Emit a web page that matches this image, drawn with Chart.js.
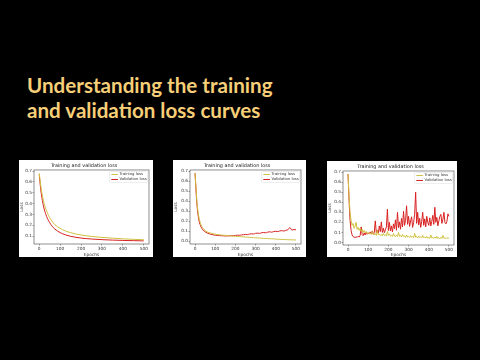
<!DOCTYPE html>
<html>
<head>
<meta charset="utf-8">
<script src="https://cdn.jsdelivr.net/npm/chart.js@4.4.1/dist/chart.umd.min.js"></script>
<style>
  html, body { margin: 0; padding: 0; background: #000; }
  body { width: 480px; height: 360px; position: relative; overflow: hidden; }
  .headline {
    position: absolute; left: 27px; color: #f6cf78;
    font-family: Lato, "Open Sans", sans-serif; font-weight: bold;
    font-size: 20.6px; line-height: 1; white-space: nowrap;
  }
  .panel { position: absolute; background: #fff; }
</style>
</head>
<body>
<div class="headline" style="top:75px">Understanding the training</div>
<div class="headline" style="top:100px">and validation loss curves</div>
<div class="panel" style="left:19px;top:160px;width:134px;height:97px"><canvas id="c1"></canvas></div>
<div class="panel" style="left:173px;top:160px;width:133px;height:97px"><canvas id="c2"></canvas></div>
<div class="panel" style="left:327px;top:161px;width:130px;height:96px"><canvas id="c3"></canvas></div>
<script>
// --- data -------------------------------------------------------------
const xTicks = [0, 100, 200, 300, 400, 500];
const yTicksGood = [0.1, 0.2, 0.3, 0.4, 0.5, 0.6, 0.7];
const yTicks = [0.0, 0.1, 0.2, 0.3, 0.4, 0.5, 0.6, 0.7];

// chart 1: good fit
const epochs1 = [0, 5, 10, 20, 30, 40, 50, 60, 75, 100, 125, 150, 200, 250, 300, 350, 400, 450, 500];
const train1 = [0.68, 0.6, 0.53, 0.43, 0.36, 0.31, 0.27, 0.24, 0.205, 0.172, 0.148, 0.132, 0.11, 0.097, 0.088, 0.081, 0.075, 0.07, 0.066];
const val1 = [0.67, 0.57, 0.49, 0.38, 0.31, 0.26, 0.225, 0.195, 0.165, 0.132, 0.112, 0.098, 0.082, 0.073, 0.067, 0.063, 0.06, 0.058, 0.056];

// chart 2: overfitting
const epochs2 = [0, 5, 10, 15, 20, 30, 40, 50, 60, 70, 80, 90, 100,
  110, 120, 130, 140, 150, 160, 170, 180, 190, 200,
  210, 220, 230, 240, 250, 260, 270, 280, 290, 300,
  310, 320, 330, 340, 350, 360, 370, 380, 390, 400,
  410, 420, 430, 440, 450, 460, 470, 480, 490, 500];
const train2 = [0.68, 0.52, 0.38, 0.29, 0.23, 0.16, 0.125, 0.105, 0.092, 0.084, 0.078, 0.073, 0.069,
  0.065, 0.062, 0.06, 0.058, 0.056, 0.054, 0.052, 0.05, 0.049, 0.047,
  0.046, 0.044, 0.043, 0.041, 0.04, 0.038, 0.037, 0.035, 0.034, 0.032,
  0.031, 0.029, 0.028, 0.027, 0.025, 0.024, 0.023, 0.022, 0.021, 0.019,
  0.018, 0.017, 0.016, 0.015, 0.014, 0.013, 0.012, 0.011, 0.011, 0.01];
const val2 = [0.68, 0.5, 0.35, 0.26, 0.2, 0.14, 0.11, 0.092, 0.08, 0.072, 0.066, 0.062, 0.058,
  0.056, 0.054, 0.053, 0.052, 0.051, 0.051, 0.052, 0.053, 0.054, 0.056,
  0.058, 0.057, 0.061, 0.063, 0.066, 0.064, 0.07, 0.072, 0.07, 0.077,
  0.079, 0.076, 0.083, 0.085, 0.082, 0.089, 0.092, 0.088, 0.095, 0.097,
  0.094, 0.101, 0.104, 0.099, 0.108, 0.112, 0.135, 0.109, 0.115, 0.112];

// chart 3: noisy / unstable
const epochs3 = [0, 5, 10, 15, 20, 25, 30, 35, 40, 45, 50, 55, 60, 65, 70, 75, 80, 85, 90, 95,
  100, 105, 110, 115, 120, 125, 130, 135, 140, 145, 150, 155, 160, 165, 170, 175, 180, 185, 190, 195,
  200, 205, 210, 215, 220, 225, 230, 235, 240, 245, 250, 255, 260, 265, 270, 275, 280, 285, 290, 295,
  300, 305, 310, 315, 320, 325, 330, 335, 340, 345, 350, 355, 360, 365, 370, 375, 380, 385, 390, 395,
  400, 405, 410, 415, 420, 425, 430, 435, 440, 445, 450, 455, 460, 465, 470, 475, 480, 485, 490, 495, 500];
const train3 = [0.68, 0.45, 0.3, 0.22, 0.17, 0.19, 0.14, 0.16, 0.2, 0.13, 0.15, 0.12, 0.14, 0.11, 0.13, 0.1, 0.12, 0.095, 0.11, 0.09,
  0.1, 0.085, 0.095, 0.08, 0.11, 0.085, 0.075, 0.09, 0.07, 0.12, 0.075, 0.085, 0.07, 0.08, 0.065, 0.09, 0.07, 0.075, 0.065, 0.11,
  0.07, 0.085, 0.062, 0.07, 0.06, 0.09, 0.065, 0.058, 0.075, 0.06, 0.1, 0.062, 0.07, 0.055, 0.08, 0.058, 0.065, 0.05, 0.075, 0.055,
  0.06, 0.05, 0.068, 0.052, 0.058, 0.048, 0.09, 0.052, 0.06, 0.045, 0.065, 0.05, 0.055, 0.045, 0.07, 0.048, 0.055, 0.045, 0.06, 0.042,
  0.05, 0.04, 0.075, 0.045, 0.05, 0.04, 0.055, 0.042, 0.06, 0.04, 0.048, 0.038, 0.052, 0.04, 0.07, 0.042, 0.045, 0.038, 0.05, 0.04, 0.045];
const val3 = [0.68, 0.42, 0.22, 0.12, 0.075, 0.058, 0.052, 0.05, 0.056, 0.051, 0.062, 0.054, 0.07, 0.155, 0.078, 0.068, 0.095, 0.074, 0.102, 0.082,
  0.093, 0.086, 0.105, 0.09, 0.115, 0.082, 0.1, 0.215, 0.098, 0.125, 0.092, 0.165, 0.108, 0.205, 0.1, 0.142, 0.098, 0.125, 0.155, 0.33,
  0.118, 0.2, 0.115, 0.165, 0.105, 0.185, 0.138, 0.225, 0.122, 0.3, 0.148, 0.205, 0.132, 0.24, 0.155, 0.31, 0.17, 0.22, 0.365, 0.18,
  0.26, 0.16, 0.215, 0.255, 0.15, 0.2, 0.28, 0.5, 0.19, 0.3, 0.175, 0.24, 0.15, 0.21, 0.3, 0.17, 0.235, 0.155, 0.26, 0.2,
  0.17, 0.245, 0.165, 0.21, 0.27, 0.18, 0.35, 0.2, 0.25, 0.165, 0.215, 0.26, 0.28, 0.19, 0.23, 0.3, 0.2, 0.185, 0.21, 0.285, 0.26];

// --- drawing ------------------------------------------------------------
const TRAIN_COLOR = "#cfc040";
const VAL_COLOR = "#d82020";
const FONT = "'DejaVu Sans', sans-serif";

// matplotlib-like box around the plot area
const framePlugin = {
    id: "frame",
    afterDatasetsDraw(chart) {
        const { ctx, chartArea: a } = chart;
        ctx.save();
        ctx.strokeStyle = "#444";
        ctx.lineWidth = 0.6;
        ctx.strokeRect(a.left, a.top, a.width, a.height);
        ctx.restore();
    },
};

// legend drawn inside the plot, upper right
const innerLegend = {
    id: "innerLegend",
    afterDraw(chart) {
        const { ctx, chartArea: a } = chart;
        const w = 38, h = 11;
        const x = a.right - w - 1.5, y = a.top + 1.5;
        ctx.save();
        ctx.fillStyle = "rgba(255,255,255,0.9)";
        ctx.strokeStyle = "#ddd";
        ctx.lineWidth = 0.5;
        ctx.beginPath();
        ctx.roundRect(x, y, w, h, 1);
        ctx.fill();
        ctx.stroke();
        ctx.font = "3.8px " + FONT;
        ctx.textBaseline = "middle";
        ctx.fillStyle = "#333";
        chart.data.datasets.forEach((ds, i) => {
            const ly = y + 3 + i * 5;
            ctx.strokeStyle = ds.borderColor;
            ctx.lineWidth = 1;
            ctx.beginPath();
            ctx.moveTo(x + 1.8, ly);
            ctx.lineTo(x + 8.5, ly);
            ctx.stroke();
            ctx.fillText(ds.label, x + 10, ly);
        });
        ctx.restore();
    },
};

function createChart(canvasId, epochs, train, val, yTickList, yMin, yMax, cfg) {
    const ctx = document.getElementById(canvasId).getContext("2d");
    const toPoints = (arr) => arr.map((v, i) => ({ x: epochs[i], y: v }));
    const tickFont = { size: 4.3, family: FONT };

    new Chart(ctx, {
        type: "line",
        plugins: [framePlugin, innerLegend],
        data: {
            datasets: [
                {
                    label: "Training loss",
                    data: toPoints(train),
                    borderColor: TRAIN_COLOR,
                    borderWidth: 1,
                    pointRadius: 0,
                    cubicInterpolationMode: cfg.smooth ? "monotone" : "default",
                    tension: 0,
                },
                {
                    label: "Validation loss",
                    data: toPoints(val),
                    borderColor: VAL_COLOR,
                    borderWidth: 1,
                    pointRadius: 0,
                    cubicInterpolationMode: cfg.smooth ? "monotone" : "default",
                    tension: 0,
                },
            ],
        },
        options: {
            responsive: true,
            maintainAspectRatio: false,
            animation: false,
            layout: { padding: { right: cfg.right, top: 0, left: 0, bottom: 0 } },
            plugins: {
                legend: { display: false },
                tooltip: { enabled: false },
                title: {
                    display: true,
                    text: "Training and validation loss",
                    color: "#222",
                    font: { size: 4.9, family: FONT, weight: "normal" },
                    padding: { top: 2.5, bottom: 1.6 },
                },
            },
            scales: {
                x: {
                    type: "linear",
                    min: -25,
                    max: 525,
                    afterBuildTicks: (s) => { s.ticks = xTicks.map((v) => ({ value: v })); },
                    afterFit: (s) => { s.height = cfg.bottom; },
                    grid: { drawOnChartArea: false, tickLength: 1.5, color: "#444", lineWidth: 0.5 },
                    border: { display: false },
                    ticks: { font: tickFont, color: "#333", padding: 0.5, maxRotation: 0 },
                    title: { display: true, text: "Epochs", color: "#333", font: tickFont, padding: 0 },
                },
                y: {
                    min: yMin,
                    max: yMax,
                    afterBuildTicks: (s) => { s.ticks = yTickList.map((v) => ({ value: v })); },
                    afterFit: (s) => { s.width = cfg.left; },
                    grid: { drawOnChartArea: false, tickLength: 1.5, color: "#444", lineWidth: 0.5 },
                    border: { display: false },
                    ticks: {
                        font: tickFont, color: "#333", padding: 0.5,
                        callback: (v) => v.toFixed(1),
                    },
                    title: { display: true, text: "Loss", color: "#333", font: tickFont, padding: 0 },
                },
            },
        },
    });
}

createChart("c1", epochs1, train1, val1, yTicksGood, 0.027, 0.711, { smooth: true, left: 15, right: 4, bottom: 13 });
createChart("c2", epochs2, train2, val2, yTicks, -0.03, 0.711, { smooth: true, left: 17, right: 5, bottom: 13 });
createChart("c3", epochs3, train3, val3, yTicks, -0.025, 0.711, { smooth: false, left: 16, right: 3, bottom: 12 });
</script>
</body>
</html>
